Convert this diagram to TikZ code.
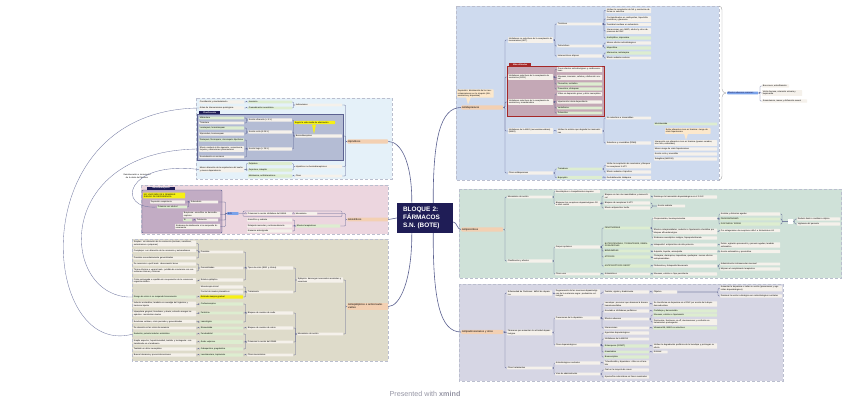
\documentclass[tikz,border=0pt]{standalone}
\usepackage{fontspec}
\setmainfont{Liberation Sans}
\usepackage{tikz}
\usetikzlibrary{positioning, calc}
\definecolor{rootblue}{RGB}{31,29,86}
\definecolor{linkgray}{RGB}{92,98,145}
\definecolor{topicorg}{RGB}{243,208,178}
\definecolor{itemivory}{RGB}{245,241,235}
\definecolor{itemgreen}{RGB}{221,237,208}
\definecolor{notepeach}{RGB}{252,232,204}
\definecolor{markyellow}{RGB}{246,240,20}
\definecolor{paneblue}{RGB}{206,218,238}
\definecolor{panegreen}{RGB}{207,225,216}
\definecolor{panepurple}{RGB}{214,214,228}
\definecolor{panesky}{RGB}{229,241,249}
\definecolor{panepink}{RGB}{236,214,223}
\definecolor{panesand}{RGB}{222,219,202}
\definecolor{boxmauve}{RGB}{196,168,182}
\definecolor{boxslate}{RGB}{180,188,212}
\definecolor{boxlilac}{RGB}{194,172,196}
\definecolor{tabred}{RGB}{165,40,40}
\definecolor{panedge}{RGB}{186,190,206}
\definecolor{bluetag}{RGB}{122,162,234}
\definecolor{wmgray}{RGB}{150,150,165}
\newcommand\tnyfont{\fontsize{2.1}{2.5}\selectfont}
\newcommand\topicfont{\fontsize{2.6}{3.0}\selectfont}
\tikzset{
  root/.style={rectangle, fill=rootblue, text=white, font=\bfseries\fontsize{6.4}{8}\selectfont,
    minimum width=56pt, minimum height=30pt, text width=44pt, align=left},
  topic/.style={rectangle, fill=topicorg, rounded corners=1pt, text width=#1, anchor=west,
    inner xsep=1pt, inner ysep=0.9pt, font=\topicfont, align=left},
  topic/.default=40pt,
  item/.style={rectangle, fill=itemivory, rounded corners=0.5pt, text width=#1, anchor=west,
    inner xsep=0.7pt, inner ysep=0.65pt, font=\tnyfont, align=left},
  item/.default=43.5pt,
  gitem/.style={item=#1, fill=itemgreen},
  gitem/.default=43.5pt,
  note/.style={item=#1, fill=notepeach},
  hilite/.style={item=#1, fill=markyellow},
  bluetag/.style={item=#1, fill=bluetag, text=rootblue},
  tab/.style={rectangle, anchor=south west, inner xsep=1pt, inner ysep=0.4pt,
    font=\tnyfont\bfseries, text=white},
  pane/.style={draw=panedge, line width=0.3pt, densely dashed},
  link/.style={draw=linkgray, line width=0.3pt, rounded corners=0.8pt},
  mainlink/.style={draw=linkgray, line width=0.6pt},
  rel/.style={draw=linkgray!85, line width=0.35pt},
  brace/.style={draw=gray!70, line width=0.4pt}
}

\begin{document}
\begin{tikzpicture}[x=1pt,y=-1pt]
  \useasboundingbox (0,0) rectangle (848,402);
  \fill[white] (0,0) rectangle (848,402);

  % panels
  \draw[pane, fill=panesky]    (196,98)  rectangle (392,179);
  \draw[pane, fill=panepink]   (141,185) rectangle (388,234);
  \draw[pane, fill=panesand]   (132,239) rectangle (388,361);
  \draw[pane, fill=paneblue]   (456,6)   rectangle (719,180);
  \draw[pane, fill=panegreen]  (459,189) rectangle (841.5,278);
  \draw[pane, fill=panepurple] (459,284) rectangle (783,381);

  % boxes inside panels
  \draw[draw=tabred, fill=boxmauve, line width=0.4pt] (507,66) rectangle (604,116);
  \node[tab, fill=tabred, minimum width=22pt] (tabisrs) at (509,66) {Más utilizados};
  \draw[draw=linkgray, fill=boxslate, line width=0.4pt] (197,114) rectangle (343,160);
  \node[tab, fill=rootblue, minimum width=21pt] (tabbzd) at (199,114) {Clasificación};
  \draw[draw=linkgray, fill=boxlilac, line width=0.4pt, rounded corners=1pt] (142,190) rectangle (222,233);
  \node[tab, fill=rootblue, minimum width=28pt] (tabansio) at (147,190) {Benzodiacepinas};
  \draw[draw=linkgray, line width=0.35pt, rounded corners=1pt] (243,211) rectangle (342,216.5);

  % root
  \node[root] (root) at (425,218) {BLOQUE 2:\\FÁRMACOS\\S.N. (BOTE)};

  % ---------- Antidepresivos
  \node[topic] (ad) at (461,107.5) {Antidepresivos};
  \node[note=35pt] (adnote) at (457,93.5) {Depresión: disminución de los neurotransmisores en la sinapsis (NA, serotonina y dopamina)};
  \fill[notepeach] (466,97) -- (471,97) -- (468,104.5) -- cycle;
  \node[item] (ad1) at (508,40)  {Inhibidores no selectivos de la recaptación de monoaminas (ADT)};
  \node[item] (ad2) at (508,77)  {Inhibidores selectivos de la recaptación de serotonina (ISRS)};
  \node[item] (ad3) at (508,102) {Inhibidores selectivos de la recaptación de serotonina y noradrenalina};
  \node[item] (ad4) at (508,131) {Inhibidores de la MAO (monoaminooxidasa) (IMAO)};
  \node[item] (ad5) at (508,173) {Otros antidepresivos};
  \node[item] (ad1a) at (557,24) {Tricíclicos};
  \node[item] (ad1b) at (557,46) {Tetracíclicos};
  \node[item] (ad1c) at (557,56) {Heterocíclicos atípicos};
  \node[item] (ad1a1) at (606,10.5) {Inhiben la recaptación de NA y serotonina de forma no selectiva};
  \node[item] (ad1a2) at (606,19) {Contraindicados en cardiopatías, hipertrofia prostática y glaucoma};
  \node[item] (ad1a3) at (606,24.5) {Toxicidad cardíaca en sobredosis};
  \node[item] (ad1a4) at (606,31) {Interacciones con IMAO, alcohol y otros depresores del SNC};
  \node[gitem] (ad1a5) at (606,38) {Amitriptilina, imipramina};
  \node[item] (ad1b1) at (606,43) {Menos efectos anticolinérgicos};
  \node[gitem] (ad1b2) at (606,48) {Maprotilina};
  \node[gitem] (ad1c1) at (606,53) {Mianserina, mirtazapina};
  \node[item] (ad1c2) at (606,58) {Efecto sedante nocturno};
  \node[item] (ad2a) at (557,69.5) {Pocos efectos anticolinérgicos y cardiovasculares};
  \node[item] (ad2b) at (557,77.5) {Náuseas, insomnio, cefalea y disfunción sexual};
  \node[gitem] (ad2c) at (557,84) {Fluoxetina, sertralina};
  \node[gitem] (ad2d) at (557,89) {Paroxetina, citalopram};
  \node[item] (ad3a) at (557,94) {Útiles en depresión grave y dolor neuropático};
  \node[item] (ad3b) at (557,102) {Hipertensión dosis-dependiente};
  \node[gitem] (ad3c) at (557,108) {Venlafaxina};
  \node[gitem] (ad3d) at (557,113) {Duloxetina};
  \node[item] (ad4a) at (557,131) {Inhiben la enzima que degrada las monoaminas};
  \node[item] (ad4a1) at (606,118) {No selectivos e irreversibles};
  \node[item] (ad4a2) at (606,143) {Selectivos y reversibles (RIMA)};
  \node[gitem=61.5pt] (ad4b1) at (654,124) {Moclobemida};
  \node[note=44pt] (ad4note) at (665,131) {Evitar alimentos ricos en tiramina: riesgo de crisis hipertensiva};
  \fill[notepeach] (684,133.5) -- (688,133.5) -- (686,140) -- cycle;
  \node[item=61.5pt] (ad4b2) at (654,143) {Interacción con alimentos ricos en tiramina (quesos curados, vino tinto, embutidos)};
  \node[item=61.5pt] (ad4b3) at (654,149) {Menor riesgo de crisis hipertensivas};
  \node[item=61.5pt] (ad4b4) at (654,154) {Acción corta y reversible};
  \node[item=61.5pt] (ad4b5) at (654,159) {Selegilina (IMAO-B)};
  \node[gitem] (ad5a) at (557,169) {Trazodona};
  \node[gitem] (ad5b) at (557,177.5) {Bupropión};
  \node[item] (ad5a1) at (606,165.5) {Inhibe la recaptación de serotonina y bloquea los receptores 5-HT2};
  \node[item] (ad5a2) at (606,172) {Efecto sedante e hipnótico};
  \node[item] (ad5b1) at (606,177.5) {Deshabituación tabáquica};

  % brace to the side note
  \draw[brace] (719,6) to[out=0,in=90] (722,10) -- (722,89) to[out=-90,in=180] (726,93);
  \draw[brace] (719,180) to[out=0,in=-90] (722,176) -- (722,97) to[out=90,in=180] (726,93);
  \node[bluetag=29.5pt] (bn) at (727,93) {Efectos adversos comunes};
  \node[item=25.5pt] (bn1) at (762,86) {Boca seca, estreñimiento};
  \node[item=38.5pt] (bn2) at (762,93) {Visión borrosa, retención urinaria y taquicardia};
  \node[item=43.5pt] (bn3) at (762,101) {Somnolencia, mareo y disfunción sexual};

  % ---------- Antipsicoticos
  \node[topic] (ap) at (461,229.5) {Antipsicóticos};
  \node[item] (ap1) at (507,197) {Mecanismo de acción};
  \node[item] (ap2) at (507,261) {Clasificación y efectos};
  \node[item] (ap1a) at (555,191.5) {Neurolépticos o tranquilizantes mayores};
  \node[item] (ap1b) at (555,203.5) {Bloquean los receptores dopaminérgicos D2 a nivel central};
  \node[item=44.5pt] (ap1b1) at (604,196) {Bloqueo en las vías mesolímbica y mesocortical};
  \node[item=44.5pt] (ap1b2) at (604,203) {Bloqueo de receptores 5-HT2};
  \node[item=44.5pt] (ap1b3) at (604,208) {Efecto antipsicótico tardío};
  \node[item=62.5pt] (ap1c) at (653,197) {Disminuye la transmisión dopaminérgica en el S.N.C.};
  \node[item=26.5pt] (ap1d) at (657,206) {Acción sedante};
  \node[item] (ap2a) at (555,247) {Grupos químicos};
  \node[item] (ap2b) at (555,274) {Otros usos};
  \node[gitem=44.5pt] (ap3a) at (604,228) {FENOTIAZINAS};
  \node[gitem=44.5pt] (ap3b) at (604,245) {BUTIROFENONAS, TIOXANTENOS, DIBENZOXAZEPINAS};
  \node[gitem=44.5pt] (ap3c) at (604,251) {BENZAMIDAS};
  \node[gitem=44.5pt] (ap3d) at (604,257) {ATÍPICOS};
  \node[gitem=44.5pt] (ap3e) at (604,266) {ANTIPSICÓTICOS DEPOT};
  \node[item=62.5pt] (ap4a) at (653,218.5) {Clorpromazina, levomepromazina};
  \node[item=62.5pt] (ap4b) at (653,231.5) {Efectos extrapiramidales, sedación e hipotensión ortostática por bloqueo alfa-adrenérgico};
  \node[item=62.5pt] (ap4c) at (653,238) {Síndrome neuroléptico maligno, hiperprolactinemia};
  \node[item=58.5pt] (ap5a) at (720,214) {Acatisia y distonías agudas};
  \node[gitem=58.5pt] (ap5b) at (720,219) {PARKINSONISMO};
  \node[gitem=58.5pt] (ap5c) at (720,224) {DISCINESIA TARDÍA};
  \node[fill=white, minimum size=5pt, inner sep=0pt] (apbox) at (790.5,221.5) {};
  \node[item=41.5pt] (ap6a) at (797,219) {Reducir dosis o cambiar a atípico};
  \node[item=41.5pt] (ap6b) at (797,224) {Vigilancia del paciente};
  \node[item=58.5pt] (ap4b1) at (720,230.5) {Por antagonismo de receptores alfa-1 e histamínicos H1};
  \node[item=62.5pt] (ap4d) at (653,245) {Haloperidol: antipsicótico de alta potencia};
  \node[item=58.5pt] (ap4d1) at (720,245) {Delirio, agitación psicomotriz y psicosis agudas; también antiemético};
  \node[item=62.5pt] (ap4e) at (653,251.5) {Sulpirida, tiaprida, amisulprida};
  \node[item=58.5pt] (ap4e1) at (720,251.5) {Acción antiemética y procinética};
  \node[item=62.5pt] (ap4f) at (653,257.5) {Clozapina, olanzapina, risperidona, quetiapina: menos efectos extrapiramidales};
  \node[item=62.5pt] (ap4g) at (653,266) {Flufenazina y haloperidol decanoato};
  \node[item=58.5pt] (ap4g1) at (720,264) {Administración intramuscular mensual};
  \node[item=58.5pt] (ap4g2) at (720,269) {Mejoran el cumplimiento terapéutico};
  \node[item=44.5pt] (ap2b1) at (604,274) {Antieméticos};
  \node[item=62.5pt] (ap2b2) at (653,274) {Náuseas, vómitos e hipo persistente};

  % ---------- Antiparkinsonianos
  \node[topic] (pk) at (461,332) {Antiparkinsonianos y otros};
  \node[item] (pk1) at (507,293) {Enfermedad de Parkinson: déficit de dopamina};
  \node[item] (pk2) at (507,332.5) {Fármacos que aumentan la actividad dopaminérgica};
  \node[item] (pk3) at (507,368) {Otros tratamientos};
  \node[item] (pk1a) at (555,293.5) {Degeneración de las neuronas dopaminérgicas de la sustancia negra: predominio colinérgico};
  \node[item] (pk1b) at (604,292) {Temblor, rigidez y bradicinesia};
  \node[item=22.5pt] (pk1c) at (653,292) {Objetivo};
  \node[item=60.5pt] (pk1d) at (720,288.5) {Aumentar la dopamina o imitar su acción (precursores y agonistas dopaminérgicos)};
  \node[item=60.5pt] (pk1e) at (720,296) {Disminuir la acción colinérgica con anticolinérgicos centrales};
  \node[item] (pk2a) at (555,318) {Precursores de la dopamina};
  \node[item] (pk2b) at (555,345) {Otros dopaminérgicos};
  \node[item] (pk2a1) at (604,304) {Levodopa: precursor que atraviesa la barrera hematoencefálica};
  \node[item] (pk2a2) at (604,311) {Asociada a inhibidores periféricos};
  \node[item] (pk2a3) at (604,319) {Efectos adversos};
  \node[item] (pk2a4) at (604,328) {Interacciones};
  \node[item=62.5pt] (pk3a1) at (653,304) {Se transforma en dopamina en el SNC por acción de la dopa-descarboxilasa};
  \node[gitem=62.5pt] (pk3a2) at (653,311) {Carbidopa y benserazida};
  \node[gitem=62.5pt] (pk3a3) at (653,315) {Náuseas, vómitos e hipotensión};
  \node[item=62.5pt] (pk3a4) at (653,322) {Discinesias, fenómeno on-off, alucinaciones y confusión en tratamientos prolongados};
  \node[gitem=62.5pt] (pk3a5) at (653,328) {Vitamina B6, IMAO no selectivos};
  \node[item] (pk2b1) at (604,333) {Agonistas dopaminérgicos};
  \node[item] (pk2b2) at (604,339) {Inhibidores de la MAO-B};
  \node[gitem] (pk2b3) at (604,346) {Entacapona (ICOMT)};
  \node[gitem] (pk2b4) at (604,352) {Amantadina};
  \node[gitem] (pk2b5) at (604,357) {Bromocriptina};
  \node[item=62.5pt] (pk3b1) at (653,346) {Inhiben la degradación periférica de la levodopa y prolongan su efecto};
  \node[item=13pt] (pk3b2) at (653,352) {Antiviral};
  \node[item] (pk3a) at (555,363) {Anticolinérgicos centrales};
  \node[item] (pk3b) at (555,374) {Vías de administración};
  \node[item] (pk4a) at (604,363) {Trihexifenidilo y biperideno: útiles en el temblor};
  \node[item] (pk4b) at (604,370) {Oral en la mayoría de casos};
  \node[item] (pk4c) at (604,377) {Apomorfina subcutánea en fases avanzadas};

  % ---------- Hipnoticos
  \node[topic=39pt] (hp) at (347,141.5) {Hipnóticos};
  \node[note=39.5pt, fill=markyellow] (hpnote) at (294,122.5) {Según la vida media de eliminación};
  \fill[markyellow] (312,124.5) -- (316,124.5) -- (314,134) -- cycle;
  \node[item=45.5pt] (hp1) at (295,105) {Indicaciones};
  \node[item=45.5pt] (hp2) at (295,136) {Benzodiacepinas};
  \node[item=45.5pt] (hp3) at (295,166.5) {Hipnóticos no benzodiacepínicos};
  \node[item=45.5pt] (hp4) at (295,176) {Otros};
  \node[gitem=42.5pt] (hp1a) at (248,102) {Insomnio};
  \node[gitem=42.5pt] (hp1b) at (248,108) {Premedicación anestésica};
  \node[item] (hp1a1) at (199,102) {Conciliación y mantenimiento};
  \node[item] (hp1b1) at (199,108) {Antes de intervenciones quirúrgicas};
  \node[item=42.5pt] (hp2a) at (248,120) {Acción ultracorta (< 6 h)};
  \node[item=42.5pt] (hp2b) at (248,132) {Acción corta (6-24 h)};
  \node[item=42.5pt] (hp2c) at (248,149) {Acción larga (> 24 h)};
  \node[gitem] (hp2a1) at (199,118) {Midazolam};
  \node[item] (hp2a2) at (199,123) {Triazolam};
  \node[gitem] (hp2b1) at (199,128) {Lorazepam, lormetazepam};
  \node[item] (hp2b2) at (199,134) {Alprazolam, bromazepam};
  \node[gitem] (hp2c1) at (199,140) {Diazepam, flurazepam, clorazepato dipotásico};
  \node[item] (hp2c2) at (199,149) {Efecto residual al día siguiente: somnolencia, torpeza y alteraciones psicomotoras};
  \node[item] (hp2c3) at (199,157) {Acumulación en ancianos};
  \node[gitem=42.5pt] (hp3a) at (248,163.5) {Zolpidem};
  \node[gitem=42.5pt] (hp3b) at (248,170) {Zopiclona, zaleplón};
  \node[item] (hp3c) at (199,169.5) {Menor alteración de la arquitectura del sueño y menos dependencia};
  \node[gitem=42.5pt] (hp4a) at (248,176) {Melatonina, antihistamínicos};

  % ---------- Ansioliticos
  \node[topic=39pt] (ax) at (347,219.5) {Ansiolíticos};
  \node[item=20.5pt] (ax1) at (295,213.5) {Mecanismo};
  \node[item] (ax1a) at (247,213.5) {Potencian la acción inhibidora del GABA};
  \node[bluetag=10pt] (ax1b) at (227,213.5) {BZD};
  \node[gitem=42.5pt] (ax2) at (296,226) {Efectos terapéuticos};
  \node[item] (ax2a) at (247,220) {Ansiolítico y sedante};
  \node[item] (ax2b) at (247,226) {Relajante muscular y anticonvulsivante};
  \node[item] (ax2c) at (247,231) {Amnesia anterógrada};
  \node[hilite=40.5pt] (bzwarn) at (143,195.5) {NO USAR MÁS DE 4 SEMANAS: RIESGO DE DEPENDENCIA};
  \node[item=26.5pt] (bz1) at (190,202) {Sobredosis};
  \node[item=33.5pt] (bz1a) at (150,202) {Depresión respiratoria};
  \node[gitem=28.5pt] (bz1b) at (157,207) {Potencia con alcohol};
  \node[item=35.5pt] (bz2) at (183,214.5) {Buspirona: ansiolítico no benzodiacepínico};
  \node[item=20.5pt] (bz3) at (196,220) {Tolerancia};
  \node[gitem=7.5pt] (bz3a) at (183,220) {Sí};
  \node[item] (bz4) at (175,226.5) {Síndrome de abstinencia si se suspende bruscamente};
  \node[font=\tnyfont, text width=40pt, align=center] (rellbl) at (137,176) {Reinstauración o incremento de la dosis del fármaco};

  % ---------- Antiepilepticos
  \node[topic=39pt] (ae) at (347,306.5) {Antiepilépticos o anticonvulsivantes};
  \node[item=44.5pt] (ae1) at (297,280) {Epilepsia: descargas neuronales anormales y excesivas};
  \node[item=44.5pt] (ae2) at (297,334) {Mecanismo de acción};
  \node[item=44.5pt] (ae1a) at (247,268) {Tipos de crisis (EEG y clínica)};
  \node[item=44.5pt] (ae1b) at (247,292) {Tratamiento};
  \node[item=41.5pt] (ae1a1) at (200,252) {Parciales};
  \node[item=41.5pt] (ae1a2) at (200,268) {Generalizadas};
  \node[item=41.5pt] (ae1a3) at (200,280) {Estatus epiléptico};
  \node[item=61.5pt] (aep1) at (133,243.5) {Simples: sin alteración de la conciencia (motoras, sensitivas, autonómicas o psíquicas)};
  \node[item=61.5pt] (aep2) at (133,250.5) {Complejas: con alteración de la conciencia y automatismos};
  \node[item=61.5pt] (aep3) at (133,258) {Parciales secundariamente generalizadas};
  \node[item=61.5pt] (aeg1) at (133,264) {De ausencia o «petit mal»: desconexión breve};
  \node[item=61.5pt] (aeg2) at (133,271) {Tónico-clónicas o «grand mal»: pérdida de conciencia con convulsiones tónicas y clónicas};
  \node[item=61.5pt] (aes1) at (133,281) {Crisis prolongada o repetida sin recuperación de la conciencia: urgencia médica};
  \node[item=41.5pt] (ae1b1) at (200,287) {Monoterapia inicial};
  \node[item=41.5pt] (ae1b2) at (200,292) {Control de niveles plasmáticos};
  \node[hilite=41.5pt] (ae1b3) at (200,297) {Retirada siempre gradual};
  \node[gitem=61.5pt] (ae1b4) at (133,297) {Riesgo de crisis si se suspende bruscamente};
  \node[item=44.5pt] (ae2a) at (247,313) {Bloqueo de canales de sodio};
  \node[item=44.5pt] (ae2b) at (247,328) {Bloqueo de canales de calcio};
  \node[item=44.5pt] (ae2c) at (247,342) {Potencian la acción del GABA};
  \node[item=44.5pt] (ae2d) at (247,355) {Otros mecanismos};
  \node[gitem=41.5pt] (ae3a) at (200,304) {Carbamazepina};
  \node[gitem=41.5pt] (ae3b) at (200,313) {Fenitoína};
  \node[gitem=41.5pt] (ae3c) at (200,322) {Lamotrigina};
  \node[item=61.5pt] (ae3a1) at (133,304.5) {Inductor enzimático; también en neuralgia del trigémino y trastorno bipolar};
  \node[item=61.5pt] (ae3b1) at (133,313.5) {Hiperplasia gingival, hirsutismo y ataxia; estrecho margen terapéutico: monitorizar niveles};
  \node[item=61.5pt] (ae3c1) at (133,321.5) {Exantema cutáneo; crisis parciales y generalizadas};
  \node[gitem=41.5pt] (ae3d) at (200,328) {Etosuximida};
  \node[item=61.5pt] (ae3d1) at (133,328) {De elección en las crisis de ausencia};
  \node[gitem=41.5pt] (ae3e) at (200,334) {Fenobarbital};
  \node[gitem=41.5pt] (ae3f) at (200,342) {Ácido valproico};
  \node[gitem=41.5pt] (ae3g) at (200,349) {Gabapentina, pregabalina};
  \node[gitem=61.5pt] (ae3e1) at (133,334) {Sedación; potente inductor enzimático};
  \node[item=61.5pt] (ae3f1) at (133,342) {Amplio espectro; hepatotoxicidad, temblor y teratogenia: contraindicado en el embarazo};
  \node[item=61.5pt] (ae3g1) at (133,349) {También en dolor neuropático};
  \node[gitem=41.5pt] (ae3h) at (200,355) {Levetiracetam, topiramato};
  \node[item=61.5pt] (ae3h1) at (133,355) {Buena tolerancia y pocas interacciones};

  % main branches
  \draw[mainlink] (root.north east) ++(-20,0) .. controls (433,140) and (440,107.5) .. (ad.west);
  \draw[mainlink] (root.east) ++(0,4) .. controls (457,222) and (457,229.5) .. (ap.west);
  \draw[mainlink] (root.south east) ++(-20,0) .. controls (433,300) and (440,332) .. (pk.west);
  \draw[mainlink] (root.north west) ++(15,0) .. controls (412,160) and (400,141.5) .. (hp.east);
  \draw[mainlink] (root.west) .. controls (392,218) and (393,219.5) .. (ax.east);
  \draw[mainlink] (root.south west) ++(15,0) .. controls (412,280) and (400,306.5) .. (ae.east);

  % connectors, right side
  \foreach \p/\c in {ad/ad1, ad/ad2, ad/ad3, ad/ad4, ad/ad5,
      ad1/ad1a, ad1/ad1b, ad1/ad1c,
      ad1a/ad1a1, ad1a/ad1a2, ad1a/ad1a3, ad1a/ad1a4, ad1a/ad1a5,
      ad1b/ad1b1, ad1b/ad1b2, ad1c/ad1c1, ad1c/ad1c2,
      ad2/ad2a, ad2/ad2b, ad2/ad2c, ad2/ad2d,
      ad3/ad3a, ad3/ad3b, ad3/ad3c, ad3/ad3d,
      ad4/ad4a, ad4a/ad4a1, ad4a/ad4a2,
      ad5/ad5a, ad5/ad5b, ad5a/ad5a1, ad5a/ad5a2, ad5b/ad5b1,
      bn/bn1, bn/bn2, bn/bn3,
      ap/ap1, ap/ap2, ap1/ap1a, ap1/ap1b,
      ap1b/ap1b1, ap1b/ap1b2, ap1b/ap1b3, ap1b1/ap1c, ap1b2/ap1d, ap1b3/ap1d,
      ap2/ap2a, ap2/ap2b,
      ap2a/ap3a, ap2a/ap3b, ap2a/ap3c, ap2a/ap3d, ap2a/ap3e,
      ap3a/ap4a, ap3a/ap4b, ap3a/ap4c,
      ap4a/ap5a, ap4a/ap5b, ap4a/ap5c,
      ap5a/apbox, ap5b/apbox, ap5c/apbox, apbox/ap6a, apbox/ap6b,
      ap4b/ap4b1, ap3b/ap4d, ap4d/ap4d1, ap3c/ap4e, ap4e/ap4e1, ap3d/ap4f,
      ap3e/ap4g, ap4g/ap4g1, ap4g/ap4g2, ap2b/ap2b1, ap2b1/ap2b2,
      pk/pk1, pk/pk2, pk/pk3, pk1/pk1a, pk1a/pk1b, pk1b/pk1c,
      pk2/pk2a, pk2/pk2b,
      pk2a/pk2a1, pk2a/pk2a2, pk2a/pk2a3, pk2a/pk2a4,
      pk2a1/pk3a1, pk2a2/pk3a2, pk2a3/pk3a3, pk2a3/pk3a4, pk2a4/pk3a5,
      pk2b/pk2b1, pk2b/pk2b2, pk2b/pk2b3, pk2b/pk2b4, pk2b/pk2b5,
      pk2b3/pk3b1, pk2b4/pk3b2,
      pk3/pk3a, pk3/pk3b, pk3a/pk4a, pk3b/pk4b, pk3b/pk4c}
    \draw[link] (\p.east) -- ++(1.6,0) |- (\c.west);
  \foreach \c in {pk1d, pk1e}
    \draw[link] (pk1c.east) -- ($(pk1d.west |- pk1c.east)+(-2,0)$) |- (\c.west);

  % connectors, left side
  \foreach \p/\c in {hp/hp1, hp/hp2, hp/hp3, hp/hp4,
      hp1/hp1a, hp1/hp1b, hp1a/hp1a1, hp1b/hp1b1,
      hp2/hp2a, hp2/hp2b, hp2/hp2c,
      hp2a/hp2a1, hp2a/hp2a2, hp2b/hp2b1, hp2b/hp2b2,
      hp2c/hp2c1, hp2c/hp2c2, hp2c/hp2c3,
      hp3/hp3a, hp3/hp3b, hp3a/hp3c, hp3b/hp3c, hp4/hp4a,
      ax/ax1, ax/ax2, ax1/ax1a, ax1a/ax1b,
      ax1b/bz1, ax1b/bz2, ax1b/bz3, ax1b/bz4,
      bz1/bz1a, bz1/bz1b, bz3/bz3a,
      ax2/ax2a, ax2/ax2b, ax2/ax2c,
      ae/ae1, ae/ae2, ae1/ae1a, ae1/ae1b,
      ae1a/ae1a1, ae1a/ae1a2, ae1a/ae1a3,
      ae1a1/aep1, ae1a1/aep2, ae1a1/aep3, ae1a2/aeg1, ae1a2/aeg2, ae1a3/aes1,
      ae1b/ae1b1, ae1b/ae1b2, ae1b/ae1b3, ae1b3/ae1b4,
      ae2/ae2a, ae2/ae2b, ae2/ae2c, ae2/ae2d,
      ae2a/ae3a, ae2a/ae3b, ae2a/ae3c,
      ae3a/ae3a1, ae3b/ae3b1, ae3c/ae3c1,
      ae2b/ae3d, ae3d/ae3d1,
      ae2c/ae3e, ae2c/ae3f, ae2c/ae3g,
      ae3e/ae3e1, ae3f/ae3f1, ae3g/ae3g1,
      ae2d/ae3h, ae3h/ae3h1}
    \draw[link] (\p.west) -- ++(-1.6,0) |- (\c.east);

  % relationships
  \draw[rel] (hp1b1.west) .. controls (20,110) and (40,360) .. (ae3e1.west);
  \draw[rel] (hp2c2.west) .. controls (50,150) and (60,300) .. (ae1b4.west);
  \draw[rel] (hp3c.west) .. controls (125,160) and (115,210) .. (bz1b.west);

  % watermark
  \node[text=wmgray, font=\fontsize{7.2}{8}\selectfont] (wm) at (425,393.5) {Presented with \textbf{xmind}};
\end{tikzpicture}
\end{document}
